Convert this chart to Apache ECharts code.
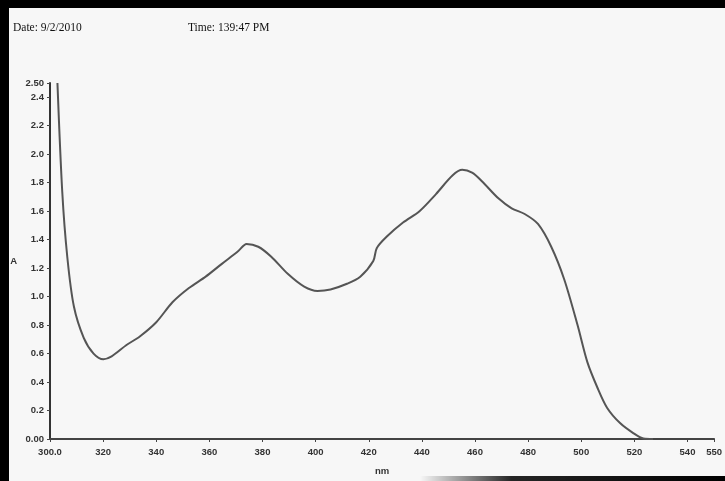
<!DOCTYPE html>
<html>
<head>
<meta charset="utf-8">
<script src="https://cdn.jsdelivr.net/npm/echarts@6/dist/echarts.min.js"></script>
<style>
html,body{margin:0;padding:0;background:#f7f7f7;}
#chart{width:725px;height:481px;}
</style>
</head>
<body>
<div id="chart"></div>
<script>
var wavelengths = [302.8, 304.6, 306.5, 309.0, 312.7, 316.4, 320.1, 323.2, 328.8, 333.8, 340.0, 346.1, 352.3, 358.6, 364.7, 370.9, 374.0, 378.4, 383.3, 389.5, 395.7, 400.7, 405.6, 411.8, 416.8, 421.7, 423.0, 426.7, 432.9, 439.1, 445.3, 451.5, 455.2, 458.9, 462.6, 468.8, 473.8, 478.7, 483.7, 488.7, 493.6, 498.6, 502.3, 506.1, 509.7, 514.7, 519.7, 523.4, 527.0];
var absorbance = [2.50, 1.74, 1.28, 0.93, 0.71, 0.60, 0.56, 0.58, 0.66, 0.72, 0.82, 0.96, 1.06, 1.14, 1.23, 1.32, 1.37, 1.35, 1.28, 1.16, 1.07, 1.04, 1.05, 1.09, 1.14, 1.25, 1.34, 1.42, 1.52, 1.60, 1.72, 1.85, 1.89, 1.87, 1.81, 1.69, 1.62, 1.58, 1.51, 1.35, 1.12, 0.80, 0.54, 0.36, 0.22, 0.11, 0.04, 0.003, 0.0];
var headerTexts = ["Date: 9/2/2010", "Time: 139:47 PM"];
var xName = "nm";
var yName = "A";

var points = wavelengths.map(function (w, i) { return [w, absorbance[i]]; });

var chart = echarts.init(document.getElementById('chart'));
var labelStyle = {color: '#333', fontSize: 9.5, fontWeight: 'bold', fontFamily: 'Liberation Sans, Arial, sans-serif'};
chart.setOption({
  backgroundColor: '#f7f7f7',
  animation: false,
  grid: {left: 50, right: 3, top: 83, bottom: 35.5},
  xAxis: {
    type: 'value', min: 300, max: 550, interval: 20,
    name: xName, nameLocation: 'middle', nameGap: 27,
    nameTextStyle: labelStyle,
    axisLine: {show: true, lineStyle: {color: '#444', width: 2}},
    axisTick: {show: true, length: 3, lineStyle: {color: '#444', width: 1}},
    splitLine: {show: false},
    axisLabel: Object.assign({margin: 8, formatter: function (v) { return v === 300 ? '300.0' : String(v); }}, labelStyle)
  },
  yAxis: {
    type: 'value', min: 0, max: 2.5, interval: 0.2,
    name: yName, nameLocation: 'middle', nameGap: 33, nameRotate: 0,
    nameTextStyle: labelStyle,
    axisLine: {show: true, lineStyle: {color: '#333', width: 2}},
    axisTick: {show: true, length: 3, lineStyle: {color: '#444', width: 1}},
    splitLine: {show: false},
    axisLabel: Object.assign({margin: 6, formatter: function (v) {
      if (v === 0) return '0.00';
      if (Math.abs(v - 2.5) < 1e-9) return '2.50';
      return v.toFixed(1);
    }}, labelStyle)
  },
  series: [{
    type: 'line', data: points, showSymbol: false, smooth: 0.3,
    lineStyle: {color: '#555', width: 2}
  }],
  graphic: [
    {type: 'rect', shape: {x: 0, y: 0, width: 725, height: 8}, style: {fill: '#000'}},
    {type: 'rect', shape: {x: 0, y: 0, width: 9, height: 481}, style: {fill: '#000'}},
    {type: 'rect', shape: {x: 420, y: 476, width: 305, height: 5}, style: {fill: new echarts.graphic.LinearGradient(0, 0, 1, 0, [{offset: 0, color: 'rgba(0,0,0,0)'}, {offset: 0.3, color: 'rgba(0,0,0,0.85)'}, {offset: 1, color: '#000'}])}},
    {type: 'text', left: 13, top: 22, style: {text: headerTexts[0], fill: '#111', font: '11.5px "Liberation Serif", serif'}},
    {type: 'text', left: 188, top: 22, style: {text: headerTexts[1], fill: '#111', font: '11.5px "Liberation Serif", serif'}}
  ]
});
</script>
</body>
</html>
